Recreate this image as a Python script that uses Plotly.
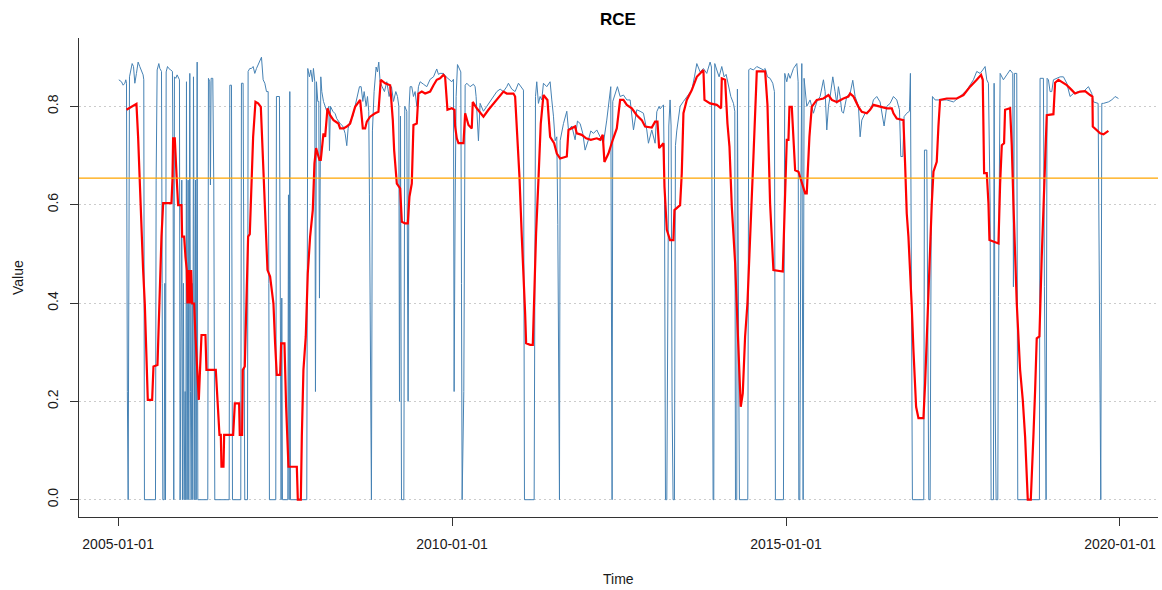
import numpy as np
import pandas as pd
import plotly.graph_objects as go

BASE_DATE = "2005-01-01"

# (years since 2005-01-01, value) -- weekly RCE series (blue)
blue_points = [
    (0.010, .854), (0.050, .850), (0.075, .843), (0.100, .847), (0.115, .854), (0.125, .847),
    (0.138, .22), (0.150, 0), (0.170, .86), (0.190, .877), (0.210, .887), (0.230, .881),
    (0.250, .847), (0.274, .867), (0.299, .890), (0.324, .881), (0.349, .871), (0.374, .864),
    (0.384, .854), (0.394, 0), (0.559, 0), (0.569, .65), (0.584, .874), (0.609, .887),
    (0.624, .877), (0.649, .871), (0.659, .44), (0.669, 0), (0.689, 0), (0.699, .44),
    (0.709, 0), (0.719, .87), (0.739, .881), (0.758, .877), (0.788, .874), (0.813, .871),
    (0.823, .65), (0.833, 0), (0.843, .86), (0.863, .857), (0.883, .864), (0.898, .86),
    (0.918, .854), (0.928, 0), (0.953, .65), (0.963, 0), (0.978, .44), (0.988, 0),
    (1.003, .22), (1.013, 0), (1.023, .85), (1.033, 0), (1.048, .65), (1.058, 0),
    (1.073, .867), (1.083, .22), (1.093, 0), (1.108, .44), (1.118, 0), (1.128, .86),
    (1.138, .22), (1.148, 0), (1.158, .65), (1.168, 0), (1.183, .89), (1.193, 0),
    (1.342, 0), (1.352, .857), (1.372, .85), (1.382, .64), (1.392, .857), (1.417, .857),
    (1.432, .64), (1.447, 0), (1.662, 0), (1.672, .843), (1.697, .843), (1.712, 0),
    (1.836, 0), (1.846, .847), (1.871, .847), (1.886, .42), (1.896, 0), (1.936, 0),
    (1.946, .871), (1.971, .877), (1.996, .877), (2.021, .881), (2.046, .867), (2.071, .877),
    (2.096, .884), (2.121, .891), (2.146, .90), (2.171, .854), (2.196, .847), (2.221, .83),
    (2.246, .83), (2.256, .44), (2.265, 0),
    (2.360, 0), (2.370, .82), (2.415, .82), (2.430, 0), (2.440, 0), (2.450, .41),
    (2.460, 0), (2.540, 0), (2.550, .62), (2.560, 0), (2.570, .83), (2.580, 0),
    (2.824, 0), (2.839, .877), (2.864, .86), (2.884, .874), (2.909, .85), (2.924, .877),
    (2.944, .85), (2.954, .22), (2.969, .85), (2.989, .81), (3.004, .81), (3.014, .41),
    (3.024, .84), (3.034, .86), (3.049, .83), (3.074, .81), (3.099, .80), (3.124, .79),
    (3.154, .80), (3.164, .71), (3.179, .80), (3.214, .79), (3.249, .785), (3.273, .775),
    (3.323, .765), (3.363, .76), (3.398, .745), (3.423, .72), (3.443, .755), (3.473, .77),
    (3.513, .78), (3.548, .80), (3.583, .82), (3.613, .84), (3.638, .84), (3.663, .81),
    (3.683, .83), (3.713, .80), (3.733, .82), (3.752, .79), (3.762, .62), (3.777, .22),
    (3.792, 0), (3.807, .75), (3.832, .83), (3.862, .88), (3.882, .87), (3.902, .89),
    (3.922, .85), (3.952, .84), (3.987, .83), (4.022, .85), (4.057, .82), (4.092, .84),
    (4.122, .81), (4.157, .83), (4.182, .82), (4.202, .80), (4.212, .20), (4.227, .78),
    (4.242, 0), (4.277, 0), (4.291, .80), (4.321, .79), (4.341, .20), (4.356, .80),
    (4.371, .84), (4.396, .84), (4.421, .82), (4.446, .83), (4.471, .80), (4.496, .84),
    (4.521, .85), (4.571, .845), (4.621, .84), (4.671, .855), (4.721, .86), (4.770, .876),
    (4.795, .865), (4.820, .867), (4.870, .867), (4.910, .86), (4.945, .855), (4.995, .85),
    (5.020, .855), (5.030, .22), (5.045, .60), (5.060, .82), (5.080, .885), (5.110, .875),
    (5.130, .87), (5.140, .44), (5.150, 0),
    (5.175, .22), (5.185, .62), (5.195, .843), (5.220, .847), (5.269, .84), (5.319, .845),
    (5.344, .84), (5.359, .82), (5.394, .73), (5.419, .806), (5.469, .79), (5.519, .80),
    (5.569, .81), (5.619, .82), (5.669, .83), (5.719, .835), (5.768, .83), (5.818, .84),
    (5.843, .847), (5.893, .835), (5.943, .83), (5.993, .847), (6.028, .84), (6.068, .833),
    (6.083, 0), (6.228, 0), (6.248, .82), (6.267, .85), (6.292, .806), (6.317, .82),
    (6.342, .813), (6.367, .847), (6.417, .84), (6.467, .85), (6.492, .813), (6.517, .78),
    (6.542, .73), (6.567, .738), (6.582, .56), (6.597, .19), (6.607, 0), (6.617, .73),
    (6.642, .75), (6.667, .765), (6.717, .79), (6.742, .752), (6.792, .76), (6.841, .732),
    (6.876, .77), (6.916, .765), (6.956, .745), (6.991, .711), (7.041, .732), (7.076, .75),
    (7.116, .745), (7.166, .752), (7.216, .738), (7.265, .725), (7.315, .772), (7.355, .82),
    (7.375, .84), (7.385, .40), (7.395, 0), (7.405, .81), (7.440, .823), (7.475, .84),
    (7.515, .82), (7.565, .823), (7.615, .813), (7.665, .813), (7.715, .752), (7.764, .793),
    (7.814, .79), (7.864, .786), (7.914, .752), (7.939, .725), (7.989, .752), (8.039, .725),
    (8.064, .789), (8.099, .80),
    (8.114, .795), (8.164, .803), (8.179, .64), (8.194, 0), (8.214, 0), (8.229, .60),
    (8.244, .76), (8.263, .813), (8.278, .76), (8.293, .20), (8.308, 0), (8.328, 0),
    (8.343, .72), (8.363, .75), (8.413, .80), (8.463, .81), (8.513, .82), (8.588, .833),
    (8.628, .86), (8.663, .887), (8.713, .87), (8.762, .877), (8.812, .867), (8.862, .89),
    (8.882, .88), (8.892, .44), (8.907, 0), (8.917, 0), (8.932, .887), (8.962, .874),
    (8.997, .86), (9.037, .881), (9.072, .86), (9.102, .865), (9.137, .84), (9.172, .82),
    (9.212, .806), (9.232, .79), (9.242, 0), (9.261, 0), (9.271, .835), (9.286, .40),
    (9.301, 0), (9.426, 0), (9.441, .874), (9.461, .877), (9.511, .874), (9.561, .881),
    (9.611, .877), (9.661, .874), (9.686, .877), (9.721, .86), (9.760, .857), (9.800, .847),
    (9.825, .83), (9.840, 0), (9.960, 0), (9.980, .867), (10.010, .85), (10.035, .867),
    (10.060, .857), (10.110, .877), (10.160, .887), (10.180, .85), (10.190, 0), (10.205, 0),
    (10.220, .60), (10.235, .887), (10.245, .40), (10.255, 0), (10.269, .857), (10.309, .80),
    (10.359, .813), (10.409, .786), (10.459, .809), (10.509, .82), (10.559, .854), (10.584, .83),
    (10.609, .752), (10.634, .80), (10.659, .82), (10.699, .86), (10.733, .83), (10.758, .806),
    (10.783, .84), (10.808, .82), (10.833, .79), (10.858, .786), (10.908, .82), (10.958, .826),
    (10.998, .853), (11.033, .82), (11.083, .80), (11.108, .738), (11.133, .772), (11.183, .786),
    (11.233, .79), (11.283, .80), (11.307, .813), (11.357, .82), (11.407, .809), (11.447, .772),
    (11.467, .76), (11.507, .80), (11.557, .806), (11.607, .82), (11.657, .813), (11.697, .793),
    (11.717, .698), (11.747, .698), (11.766, .779), (11.806, .786), (11.846, .79), (11.861, .867),
    (11.876, .20), (11.891, 0), (12.061, 0), (12.071, .711), (12.106, .711), (12.121, .20),
    (12.136, 0), (12.156, 0), (12.171, .535), (12.191, .82), (12.231, .813), (12.305, .813),
    (12.405, .813), (12.505, .809), (12.605, .82), (12.705, .833), (12.804, .854), (12.854, .871),
    (12.904, .867), (12.944, .874), (12.979, .881), (13.004, .854), (13.029, .847), (13.054, .60),
    (13.069, 0), (13.104, 0), (13.114, .847), (13.129, .20), (13.144, 0), (13.169, 0),
    (13.179, .413), (13.204, .867), (13.253, .854), (13.303, .864), (13.353, .874), (13.393, .867),
    (13.403, .433), (13.418, .867), (13.453, .867), (13.468, 0),
    (13.792, 0), (13.802, .857), (13.827, .857), (13.852, .857), (13.867, .433), (13.882, .216),
    (13.892, 0), (13.907, .857), (13.927, .854), (13.952, .830), (13.977, .830), (14.002, .854),
    (14.052, .857), (14.102, .86), (14.152, .86), (14.202, .847), (14.251, .82), (14.301, .826),
    (14.376, .83), (14.451, .83), (14.526, .840), (14.576, .826), (14.601, .809), (14.651, .806),
    (14.671, .806), (14.681, .60), (14.696, .203), (14.711, 0), (14.726, .806), (14.751, .806),
    (14.825, .809), (14.875, .813), (14.925, .82), (14.975, .816),
]

# (years since 2005-01-01, value) -- smoothed series (red)
red_points = [
    (0.125, .793), (0.274, .805), (0.299, .738), (0.324, .643), (0.349, .535), (0.374, .467),
    (0.399, .399), (0.424, .301), (0.434, .264), (0.444, .203), (0.509, .203), (0.529, .271),
    (0.589, .274), (0.604, .345), (0.624, .44), (0.649, .535), (0.674, .603), (0.798, .603),
    (0.813, .65), (0.823, .735), (0.848, .735), (0.863, .704), (0.878, .65), (0.898, .599),
    (0.948, .599), (0.958, .535), (0.988, .535), (1.008, .494), (1.028, .467), (1.038, .399),
    (1.058, .467), (1.073, .399), (1.093, .467), (1.108, .399), (1.138, .399), (1.158, .332),
    (1.178, .271), (1.208, .203), (1.228, .271), (1.248, .335), (1.307, .335), (1.322, .264),
    (1.462, .264), (1.487, .199), (1.517, .132), (1.537, .132), (1.547, .067), (1.577, .067),
    (1.587, .132), (1.722, .132), (1.747, .196), (1.811, .196), (1.821, .132), (1.856, .132),
    (1.866, .264), (1.896, .271), (1.921, .399), (1.946, .535), (1.971, .54), (1.996, .657),
    (2.021, .738), (2.056, .809), (2.096, .806), (2.136, .799), (2.156, .738), (2.196, .603),
    (2.236, .467),
    (2.275, .454), (2.325, .399), (2.350, .318), (2.375, .254), (2.425, .254), (2.440, .318),
    (2.490, .318), (2.515, .189), (2.550, .067), (2.675, .067), (2.690, 0), (2.735, 0),
    (2.750, .128), (2.774, .264), (2.809, .332), (2.839, .460), (2.874, .535), (2.914, .589),
    (2.939, .684), (2.964, .715), (3.014, .691), (3.034, .691), (3.074, .745), (3.099, .738),
    (3.134, .796), (3.174, .782), (3.224, .772), (3.298, .765), (3.323, .755), (3.373, .755),
    (3.423, .759), (3.473, .765), (3.548, .799), (3.623, .813), (3.663, .755), (3.698, .755),
    (3.723, .769), (3.772, .779), (3.847, .786), (3.897, .789), (3.932, .854), (3.997, .847),
    (4.072, .843), (4.112, .772), (4.132, .711), (4.172, .643), (4.222, .633), (4.237, .596),
    (4.247, .565), (4.296, .562), (4.336, .562), (4.361, .616), (4.396, .643), (4.421, .762),
    (4.471, .765), (4.496, .826), (4.546, .830), (4.596, .826), (4.671, .830), (4.721, .843),
    (4.770, .854), (4.820, .857), (4.870, .864), (4.895, .860), (4.930, .793), (4.995, .796),
    (5.035, .793), (5.045, .759), (5.070, .735), (5.095, .725), (5.160, .725),
    (5.170, .725), (5.195, .786), (5.245, .762), (5.294, .755), (5.309, .809), (5.369, .796),
    (5.469, .779), (5.544, .793), (5.619, .806), (5.768, .830), (5.818, .826), (5.918, .826),
    (5.943, .820), (5.968, .765), (6.008, .657), (6.043, .535), (6.068, .467), (6.093, .379),
    (6.108, .318), (6.168, .315), (6.208, .315), (6.228, .413), (6.257, .542), (6.292, .650),
    (6.327, .765), (6.367, .823), (6.427, .813), (6.467, .738), (6.527, .725), (6.567, .704),
    (6.617, .694), (6.717, .698), (6.742, .752), (6.841, .759), (6.866, .745), (6.941, .742),
    (7.006, .735), (7.076, .732), (7.166, .735), (7.216, .732), (7.255, .742), (7.280, .687),
    (7.340, .704), (7.405, .732), (7.465, .755), (7.515, .813), (7.565, .813), (7.615, .803),
    (7.690, .796), (7.764, .782), (7.839, .772), (7.889, .759), (7.989, .757), (8.039, .769),
    (8.074, .769), (8.099, .715), (8.164, .725), (8.179, .637), (8.214, .549), (8.263, .528),
    (8.313, .528), (8.328, .589), (8.413, .599), (8.438, .664), (8.463, .786), (8.513, .813),
    (8.588, .833), (8.663, .860), (8.762, .874), (8.778, .813), (8.862, .806), (8.962, .803),
    (9.027, .796), (9.037, .857), (9.087, .854), (9.122, .765), (9.152, .718), (9.187, .596),
    (9.237, .481), (9.271, .359), (9.301, .250), (9.321, .189), (9.351, .216), (9.386, .332),
    (9.421, .399), (9.461, .549), (9.511, .698), (9.561, .871), (9.686, .871), (9.721, .803),
    (9.760, .603), (9.810, .467), (9.950, .464), (9.975, .576), (10.010, .732), (10.035, .732),
    (10.050, .799), (10.085, .799), (10.110, .735), (10.135, .670), (10.185, .667), (10.235, .643),
    (10.285, .623), (10.309, .623), (10.349, .738), (10.384, .799), (10.459, .813), (10.559, .816),
    (10.634, .823), (10.684, .813), (10.758, .809), (10.858, .816), (10.933, .820),
    (10.958, .826), (11.008, .820), (11.083, .799), (11.133, .789), (11.208, .786), (11.257, .793),
    (11.307, .803), (11.407, .799), (11.507, .796), (11.582, .796), (11.607, .786), (11.657, .775),
    (11.756, .772), (11.781, .684), (11.806, .582), (11.831, .535), (11.856, .474), (11.881, .393),
    (11.906, .305), (11.946, .189), (11.981, .166), (12.056, .166), (12.081, .237), (12.106, .338),
    (12.131, .413), (12.156, .521), (12.181, .603), (12.206, .667), (12.255, .687), (12.280, .759),
    (12.305, .813), (12.405, .816), (12.555, .816), (12.655, .823), (12.754, .840), (12.854, .854),
    (12.919, .864), (12.944, .854), (12.964, .664), (13.004, .664), (13.029, .603), (13.044, .528),
    (13.104, .525), (13.179, .521), (13.204, .643), (13.229, .721), (13.263, .725), (13.278, .793),
    (13.353, .796), (13.378, .721), (13.403, .603), (13.428, .514), (13.453, .399), (13.503, .264),
    (13.543, .203), (13.578, .128), (13.603, .061), (13.618, 0),
    (13.663, 0), (13.678, .067), (13.703, .132), (13.728, .223), (13.752, .328), (13.792, .332),
    (13.802, .399), (13.827, .494), (13.852, .589), (13.877, .67), (13.902, .782), (14.002, .784),
    (14.027, .848), (14.077, .854), (14.127, .850), (14.202, .843), (14.277, .833), (14.326, .826),
    (14.401, .830), (14.476, .831), (14.551, .823), (14.586, .820), (14.591, .759), (14.651, .752),
    (14.701, .745), (14.751, .743), (14.800, .748), (14.825, .750),
]

threshold = 0.654

x_tick_labels = ["2005-01-01", "2010-01-01", "2015-01-01", "2020-01-01"]
y_tick_values = [0.0, 0.2, 0.4, 0.6, 0.8]
y_tick_labels = ["0.0", "0.2", "0.4", "0.6", "0.8"]


def to_dates(points):
    t = np.array([p[0] for p in points])
    v = [p[1] for p in points]
    d = pd.Timestamp(BASE_DATE) + pd.to_timedelta(t * 365.25, unit="D")
    return d, v


bd, bv = to_dates(blue_points)
rd, rv = to_dates(red_points)

FONT = "Liberation Sans, Arial, sans-serif"
TXT = "#1a1a1a"

fig = go.Figure()
fig.add_trace(go.Scatter(x=bd, y=bv, mode="lines",
                         line=dict(color="#4682B4", width=1), showlegend=False))
fig.add_trace(go.Scatter(x=rd, y=rv, mode="lines",
                         line=dict(color="#FF0000", width=2.2), showlegend=False))
fig.add_hline(y=threshold, line=dict(color="#FFA500", width=1.2))

fig.update_layout(
    width=1162, height=590,
    margin=dict(l=79, r=4, t=38, b=73, autoexpand=False),
    paper_bgcolor="white", plot_bgcolor="white",
    font=dict(family=FONT, size=14, color=TXT),
    title=dict(text="<b>RCE</b>", x=618 / 1162, xanchor="center",
               y=1 - 19 / 590, yanchor="middle", xref="container", yref="container",
               font=dict(size=17, family=FONT, color="#000")),
    showlegend=False,
)
fig.update_xaxes(
    type="date", range=["2004-06-01", "2020-07-27"], automargin=False,
    tickvals=list(pd.to_datetime(x_tick_labels)), ticktext=x_tick_labels,
    showgrid=False, zeroline=False,
    showline=True, linecolor="#333", linewidth=1, mirror=False,
    ticks="outside", ticklen=8, tickcolor="#333", tickwidth=1,
    tickfont=dict(size=14, family=FONT, color=TXT), ticklabelstandoff=6,
)
fig.update_yaxes(
    range=[-0.0352, 0.939], automargin=False,
    tickvals=y_tick_values, ticktext=y_tick_labels, tickangle=-90,
    showgrid=True, gridcolor="#cccccc", griddash="2px,3px", gridwidth=1,
    zeroline=False,
    showline=True, linecolor="#333", linewidth=1, mirror=False,
    ticks="outside", ticklen=8, tickcolor="#333", tickwidth=1,
    tickfont=dict(size=14, family=FONT, color=TXT), ticklabelstandoff=6,
)
fig.add_annotation(text="Time", xref="paper", yref="paper", x=0.5, y=0,
                   yshift=-62, showarrow=False, yanchor="middle",
                   font=dict(size=14, family=FONT, color=TXT))
fig.add_annotation(text="Value", xref="paper", yref="paper", x=0, y=0.499,
                   xshift=-61, showarrow=False, xanchor="center", textangle=-90,
                   font=dict(size=14, family=FONT, color=TXT))

fig.write_html(
    "out.html",
    config={"displayModeBar": False},
    post_script="document.body.style.margin='0';document.body.style.overflow='hidden';",
)
